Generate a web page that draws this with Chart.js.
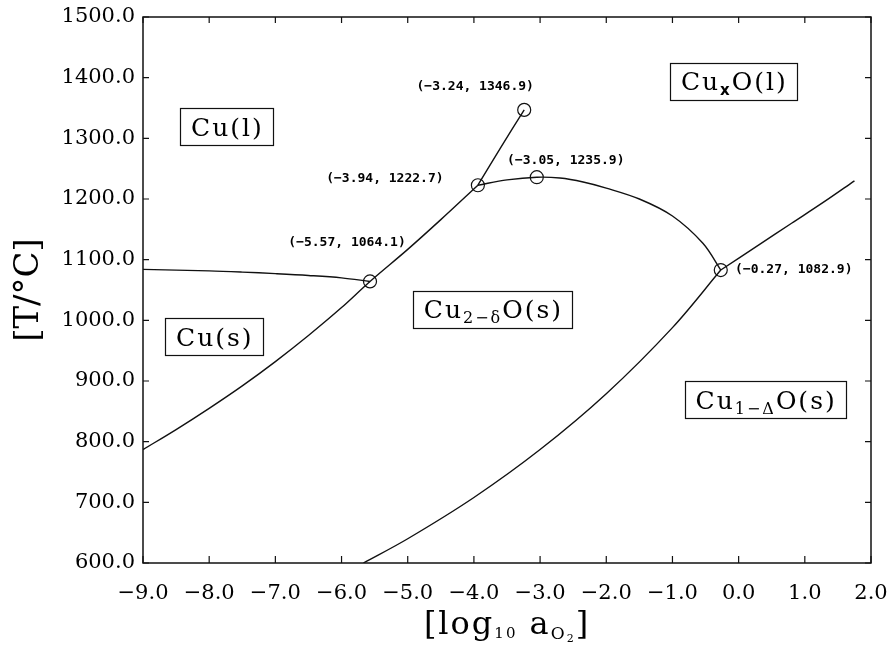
<!DOCTYPE html>
<html>
<head>
<meta charset="utf-8">
<title>Cu–O phase diagram</title>
<script src="https://cdn.jsdelivr.net/npm/chart.js@4.4.1/dist/chart.umd.min.js"></script>
<style>
  html, body { margin: 0; padding: 0; background: #fff; }
  #wrap { position: relative; width: 890px; height: 648px; }
</style>
</head>
<body>
<div id="wrap"><canvas id="phaseChart"></canvas></div>
<script>
// phase boundaries: log10 a(O2) vs temperature (°C)
const cuMeltX = [-9.0, -8.0, -7.5, -7.0, -6.5, -6.0, -5.57];
const cuMeltT = [1084.0, 1081.5, 1079.5, 1077.0, 1074.0, 1070.0, 1064.1];

const cuOxideX = [-9.0, -8.5, -8.0, -7.5, -7.0, -6.5, -6.0, -5.57, -5.0, -4.5, -3.94];
const cuOxideT = [787, 820, 855, 892, 932, 975, 1021, 1064.1, 1117, 1166, 1222.7];

const liquidCuX = [-3.94, -3.6, -3.24];
const liquidCuT = [1222.7, 1284, 1346.9];

const cu2oLiquidusX = [-3.94, -3.5, -3.05, -2.7, -2.35, -2.0, -1.5, -1.0, -0.54, -0.27];
const cu2oLiquidusT = [1222.7, 1231.5, 1235.9, 1234.5, 1228, 1218, 1200, 1172, 1127, 1082.9];

const cu2oCuoX = [-5.67, -5.0, -4.0, -3.0, -2.0, -1.0, -0.27];
const cu2oCuoT = [600, 640, 708, 787, 879, 988, 1082.9];

const cuoMeltX = [-0.27, 0.3, 0.8, 1.3, 1.75];
const cuoMeltT = [1082.9, 1124, 1160, 1196, 1230];

// invariant points (circled)
const invariantX = [-5.57, -3.94, -3.24, -3.05, -0.27];
const invariantT = [1064.1, 1222.7, 1346.9, 1235.9, 1082.9];

const xTicks = [-9, -8, -7, -6, -5, -4, -3, -2, -1, 0, 1, 2];
const yTicks = [600, 700, 800, 900, 1000, 1100, 1200, 1300, 1400, 1500];

const SERIF = '"DejaVu Serif", serif';
const minus = s => s.replace('-', '\u2212');

function pts(xs, ys) {
  return xs.map((x, i) => ({ x: x, y: ys[i] }));
}

function curve(xs, ys) {
  return {
    data: pts(xs, ys),
    showLine: true,
    borderColor: '#111',
    borderWidth: 1.4,
    pointRadius: 0,
    tension: 0.35,
    fill: false
  };
}

// text made of runs with different sizes / baseline shifts
function drawRuns(ctx, runs, cx, baseline) {
  let total = 0;
  runs.forEach(r => {
    ctx.font = r.font;
    r.w = ctx.measureText(r.text).width;
    total += r.w;
  });
  let x = cx - total / 2;
  runs.forEach(r => {
    ctx.font = r.font;
    ctx.fillText(r.text, x, baseline + (r.dy || 0));
    x += r.w;
  });
  return total;
}

const big = '25px ' + SERIF;
const sub = '16px ' + SERIF;
const regionLabels = [
  { x: -7.74, y: 1318.7, runs: [{ text: 'Cu(l)', font: big }] },
  { x: -0.08, y: 1394.5, runs: [{ text: 'Cu', font: big }, { text: 'x', font: 'bold 15px "DejaVu Sans", sans-serif', dy: 5 }, { text: 'O(l)', font: big }] },
  { x: -7.93, y: 972.6, runs: [{ text: 'Cu(s)', font: big }] },
  { x: -3.72, y: 1017.9, runs: [{ text: 'Cu', font: big }, { text: '2\u2212\u03b4', font: sub, dy: 5 }, { text: 'O(s)', font: big }] },
  { x: 0.40, y: 868.7, runs: [{ text: 'Cu', font: big }, { text: '1\u2212\u0394', font: sub, dy: 5 }, { text: 'O(s)', font: big }] }
];

// pixel offsets of the coordinate labels from their circles
const pointLabelOffsets = [[-23, -39], [-93, -7], [-49, -23], [29, -17], [73, 0]];

const decorPlugin = {
  id: 'decor',
  afterDatasetsDraw(chart) {
    const ctx = chart.ctx;
    const a = chart.chartArea;
    const xs = chart.scales.x, ys = chart.scales.y;
    ctx.save();
    ctx.strokeStyle = '#111';
    ctx.fillStyle = '#000';

    // frame
    ctx.lineWidth = 1.5;
    ctx.strokeRect(a.left, a.top, a.right - a.left, a.bottom - a.top);

    // inward tick marks on all four sides
    ctx.lineWidth = 1.2;
    ctx.beginPath();
    xs.ticks.forEach(t => {
      const px = xs.getPixelForValue(t.value);
      ctx.moveTo(px, a.bottom); ctx.lineTo(px, a.bottom - 7);
      ctx.moveTo(px, a.top); ctx.lineTo(px, a.top + 6);
    });
    ys.ticks.forEach(t => {
      const py = ys.getPixelForValue(t.value);
      ctx.moveTo(a.left, py); ctx.lineTo(a.left + 6, py);
      ctx.moveTo(a.right, py); ctx.lineTo(a.right - 6, py);
    });
    ctx.stroke();

    // coordinate labels of invariant points
    ctx.font = 'bold 13px "DejaVu Sans Mono", monospace';
    ctx.textAlign = 'center';
    ctx.textBaseline = 'middle';
    invariantX.forEach((x, i) => {
      const px = xs.getPixelForValue(x), py = ys.getPixelForValue(invariantT[i]);
      const txt = '(' + minus(x.toFixed(2)) + ', ' + invariantT[i].toFixed(1) + ')';
      ctx.fillText(txt, px + pointLabelOffsets[i][0], py + pointLabelOffsets[i][1]);
    });

    // boxed phase names
    ctx.textAlign = 'left';
    ctx.textBaseline = 'alphabetic';
    ctx.letterSpacing = '2px';
    regionLabels.forEach(r => {
      const cx = xs.getPixelForValue(r.x), cy = ys.getPixelForValue(r.y);
      let w = 0;
      r.runs.forEach(run => { ctx.font = run.font; w += ctx.measureText(run.text).width; });
      const bw = w + 20, bh = 37;
      ctx.lineWidth = 1.2;
      ctx.strokeRect(Math.round(cx - bw / 2) + 0.5, Math.round(cy - bh / 2) + 0.5, Math.round(bw), bh);
      drawRuns(ctx, r.runs, cx + 1, cy + 9);
    });

    // x-axis title
    const t = '32px ' + SERIF;
    drawRuns(ctx, [
      { text: '[log', font: t },
      { text: '10', font: '15px ' + SERIF, dy: 4 },
      { text: ' a', font: t },
      { text: 'O', font: '17px ' + SERIF, dy: 5 },
      { text: '2', font: '11px ' + SERIF, dy: 8 },
      { text: ']', font: t }
    ], (a.left + a.right) / 2, 634);
    ctx.letterSpacing = '0px';
    ctx.restore();
  }
};

const tickFont = { family: SERIF, size: 21 };

new Chart(document.getElementById('phaseChart'), {
  type: 'scatter',
  data: {
    datasets: [
      curve(cuMeltX, cuMeltT),
      curve(cuOxideX, cuOxideT),
      curve(liquidCuX, liquidCuT),
      curve(cu2oLiquidusX, cu2oLiquidusT),
      curve(cu2oCuoX, cu2oCuoT),
      curve(cuoMeltX, cuoMeltT),
      {
        data: pts(invariantX, invariantT),
        pointStyle: 'circle',
        pointRadius: 6.5,
        pointBackgroundColor: 'rgba(0,0,0,0)',
        pointBorderColor: '#111',
        pointBorderWidth: 1.2,
        showLine: false
      }
    ]
  },
  options: {
    responsive: true,
    maintainAspectRatio: false,
    animation: false,
    layout: { padding: { top: 17, right: 19, left: 0, bottom: 0 } },
    plugins: {
      legend: { display: false },
      tooltip: { enabled: false }
    },
    scales: {
      x: {
        type: 'linear',
        min: -9, max: 2,
        afterBuildTicks: s => { s.ticks = xTicks.map(v => ({ value: v })); },
        afterFit: s => { s.height = 85; s.paddingLeft = 0; s.paddingRight = 0; },
        grid: { display: false, drawTicks: false },
        border: { display: false },
        ticks: {
          autoSkip: false,
          maxRotation: 0,
          color: '#000',
          font: tickFont,
          padding: 18,
          callback: v => minus(v.toFixed(1))
        }
      },
      y: {
        type: 'linear',
        min: 600, max: 1500,
        afterBuildTicks: s => { s.ticks = yTicks.map(v => ({ value: v })); },
        afterFit: s => { s.width = 143; s.paddingTop = 0; s.paddingBottom = 0; },
        grid: { display: false, drawTicks: false },
        border: { display: false },
        ticks: {
          color: '#000',
          font: tickFont,
          padding: 8,
          callback: v => v.toFixed(1)
        },
        title: {
          display: true,
          text: '[T/°C]',
          color: '#000',
          font: { family: SERIF, size: 34, lineHeight: 1 },
          padding: { top: 12, bottom: 0 }
        }
      }
    }
  },
  plugins: [decorPlugin]
});
</script>
</body>
</html>
